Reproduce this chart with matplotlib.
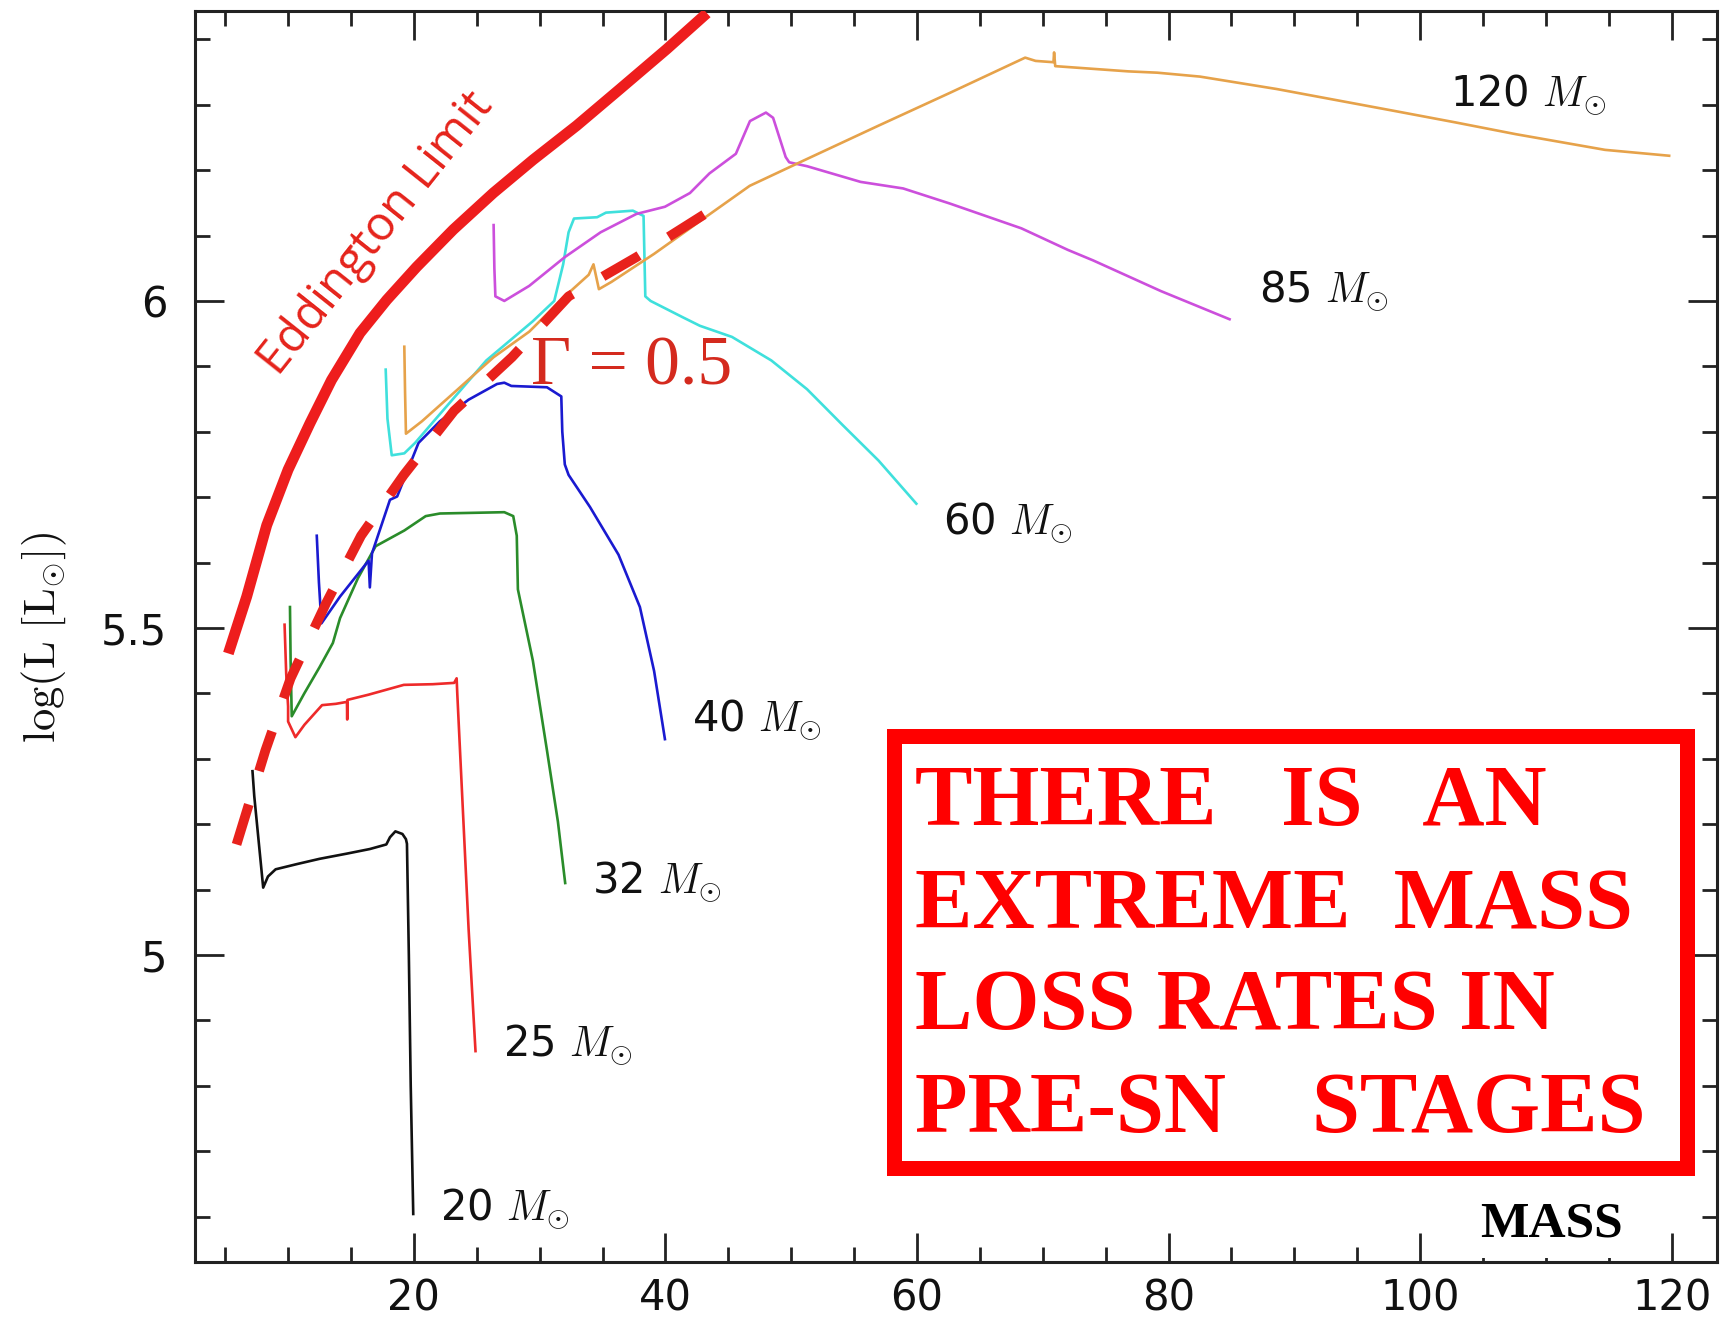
import matplotlib
matplotlib.use("Agg")
import matplotlib.pyplot as plt
from matplotlib.patches import Rectangle
from matplotlib.ticker import MultipleLocator

plt.rcParams['mathtext.fontset'] = 'cm'
plt.rcParams['font.family'] = 'DejaVu Sans'

# ---- data (mass in Msun, log L) ----
edd_x = [5.25, 6.71, 8.3, 10.0, 11.74, 13.45, 15.72, 17.84, 20.22, 23.13, 26.31,
         29.49, 32.94, 36.38, 40.1, 43.3]
edd_y = [5.461, 5.548, 5.657, 5.742, 5.813, 5.879, 5.951, 6.0015, 6.052, 6.109, 6.165,
         6.216, 6.268, 6.324, 6.385, 6.44]

gam_x = [5.9, 8.2, 10.2, 13.0, 15.8, 19.2, 23.2, 27.8, 32.3, 37.7, 44.3]
gam_y = [5.169, 5.313, 5.423, 5.537, 5.641, 5.734, 5.832, 5.914, 6.007, 6.067, 6.147]

m20_x = [7.17, 7.31, 8.02, 8.4, 9.01, 10.71, 12.5, 14.68, 16.5, 17.81, 18.1, 18.53,
         19.09, 19.37, 19.45, 19.6, 19.75, 19.95]
m20_y = [5.281, 5.243, 5.103, 5.12, 5.131, 5.139, 5.147, 5.155, 5.162, 5.169, 5.18, 5.189,
         5.185, 5.177, 5.17, 5.0, 4.8, 4.604]

m25_x = [9.72, 9.85, 10.0, 10.0, 10.58, 11.3, 12.7, 13.8, 14.68, 14.7, 14.72, 16.4,
         19.2, 21.5, 23.2, 23.4, 23.45, 23.8, 24.35, 24.9]
m25_y = [5.505, 5.43, 5.38, 5.357, 5.333, 5.352, 5.382, 5.384, 5.387, 5.36, 5.39, 5.398,
         5.413, 5.414, 5.416, 5.423, 5.40, 5.26, 5.04, 4.853]

m32_x = [10.15, 10.2, 10.29, 11.29, 12.5, 13.56, 14.13, 15.55, 16.96, 19.24, 20.94,
         22.07, 27.19, 27.9, 28.18, 28.27, 29.46, 30.58, 31.45, 32.03]
m32_y = [5.532, 5.45, 5.365, 5.40, 5.44, 5.477, 5.515, 5.576, 5.625, 5.649, 5.671,
         5.675, 5.677, 5.671, 5.641, 5.559, 5.45, 5.313, 5.204, 5.11]

m40_x = [12.28, 12.45, 12.65, 14.13, 16.4, 16.5, 16.67, 18.1, 18.67, 20.37, 22.07,
         24.35, 26.61, 27.19, 27.75, 30.58, 31.72, 31.8, 32.0, 32.3, 34.0, 36.27,
         37.97, 39.1, 39.96]
m40_y = [5.641, 5.57, 5.507, 5.548, 5.603, 5.562, 5.614, 5.696, 5.701, 5.783, 5.816,
         5.849, 5.873, 5.875, 5.87, 5.868, 5.854, 5.80, 5.75, 5.734, 5.685, 5.612,
         5.532, 5.434, 5.33]

m60_x = [17.76, 17.9, 18.24, 19.24, 20.1, 22.07, 25.76, 29.46, 31.16, 31.87, 32.3,
         32.73, 34.57, 35.27, 37.41, 38.26, 38.4, 38.82, 41.38, 42.74, 45.29, 48.42,
         51.26, 54.1, 56.94, 59.95]
m60_y = [5.895, 5.82, 5.764, 5.767, 5.783, 5.827, 5.909, 5.969, 6.0, 6.056, 6.105,
         6.126, 6.128, 6.135, 6.138, 6.13, 6.007, 6.0, 5.975, 5.962, 5.945, 5.909,
         5.865, 5.81, 5.756, 5.69]

m85_x = [26.34, 26.4, 26.48, 27.19, 29.17, 32.0, 34.85, 37.69, 39.96, 41.95, 43.5,
         45.6, 46.72, 47.99, 48.56, 49.56, 49.84, 51.26, 55.52, 58.9, 62.6, 65.0,
         68.3, 72.0, 74.0, 79.4, 84.85]
m85_y = [6.116, 6.05, 6.007, 6.0, 6.023, 6.067, 6.105, 6.133, 6.144, 6.165, 6.195,
         6.225, 6.275, 6.288, 6.28, 6.22, 6.212, 6.206, 6.182, 6.172, 6.149, 6.133,
         6.111, 6.078, 6.062, 6.015, 5.972]

m120_x = [19.24, 19.3, 19.37, 20.64, 23.5, 26.34, 29.17, 32.0, 33.9, 34.28, 34.71,
          35.7, 39.1, 41.95, 42.74, 46.7, 50.69, 56.94, 62.6, 68.6, 69.43, 70.85,
          70.9, 70.99, 76.8, 79.1, 82.5, 88.6, 98.1, 102.8, 107.6, 114.7, 119.8]
m120_y = [5.93, 5.86, 5.797, 5.816, 5.865, 5.914, 5.953, 6.007, 6.04, 6.056, 6.018,
          6.029, 6.072, 6.111, 6.122, 6.176, 6.212, 6.268, 6.318, 6.372, 6.367, 6.365,
          6.38, 6.359, 6.351, 6.349, 6.343, 6.324, 6.29, 6.273, 6.255, 6.231, 6.222]

track_names = ["20", "25", "32", "40", "60", "85", "120"]
track_colors = ["#111111", "#ee2a2a", "#2a8c2a", "#1a1ad0", "#3fe0dc", "#cc4fdc", "#e6a24a"]
label_x = [22.06, 27.05, 34.14, 42.1, 62.05, 87.2, 102.35]
label_y = [4.594, 4.845, 5.095, 5.343, 5.644, 5.998, 6.298]

tracks = [(m20_x, m20_y), (m25_x, m25_y), (m32_x, m32_y), (m40_x, m40_y),
          (m60_x, m60_y), (m85_x, m85_y), (m120_x, m120_y)]

fig = plt.figure(figsize=(17.35, 13.18), dpi=100)
ax = fig.add_axes([0.1124, 0.0425, 0.8772, 0.9492])

for (tx, ty), c in zip(tracks, track_colors):
    ax.plot(tx, ty, color=c, lw=1.9, zorder=3)

# eddington limit and gamma = 0.5
ax.plot(edd_x, edd_y, color="#ee1d1d", lw=7.8, solid_capstyle="butt",
        solid_joinstyle="round", zorder=4)
ax.plot(gam_x, gam_y, color="#e8221c", lw=7.0, dashes=(4.3, 3.6),
        dash_capstyle="butt", zorder=4)

ax.text(17.04, 6.1035, "Eddington Limit", family=["Open Sans", "DejaVu Sans"], fontsize=34,
        color="#e5231b", rotation=51.5, rotation_mode="anchor", ha="center", va="center")
ax.text(29.3, 5.873, "Γ = 0.5", family=["Liberation Serif", "DejaVu Serif"], fontsize=50,
        color="#d42a1e", ha="left", va="baseline", zorder=5)

for name, lx, ly in zip(track_names, label_x, label_y):
    ax.text(lx, ly, name + r" $M_{\odot}$", fontsize=30, color="#111111",
            ha="left", va="baseline")

ax.set_xlim(2.6, 123.6)
ax.set_ylim(4.5306, 6.4434)

ax.xaxis.set_major_locator(MultipleLocator(20))
ax.xaxis.set_minor_locator(MultipleLocator(5))
ax.yaxis.set_major_locator(MultipleLocator(0.5))
ax.yaxis.set_minor_locator(MultipleLocator(0.1))
ax.yaxis.set_major_formatter(plt.FuncFormatter(lambda v, p: "%g" % v))

ax.tick_params(which="both", direction="in", top=True, right=True, color="#222222",
               width=2.0, labelsize=30, labelcolor="#111111")
ax.tick_params(which="major", length=21)
ax.tick_params(which="minor", length=11)
ax.tick_params(axis="y", which="major", pad=20)
ax.tick_params(axis="x", which="major", pad=11)
for s in ax.spines.values():
    s.set_linewidth(2.2)
    s.set_color("#222222")

fig.text(44 / 1735, 1 - 637 / 1318, r"$\log(\mathrm{L}\ [\mathrm{L}_{\odot}])$",
         fontsize=32, color="#111111", rotation=90, ha="center", va="center")

# message box
ax.add_patch(Rectangle((0.4591, 0.0751), 0.9803 - 0.4591, 0.4208 - 0.0751,
                       transform=ax.transAxes, facecolor="white", edgecolor="#ff0000",
                       lw=10.8, joinstyle="miter", zorder=6))
box_lines = ["THERE   IS   AN", "EXTREME  MASS", "LOSS RATES IN", "PRE-SN    STAGES"]
box_base = [0.3494, 0.2671, 0.1864, 0.1040]
for line, yb in zip(box_lines, box_base):
    ax.text(0.4733, yb, line, transform=ax.transAxes, family="Liberation Serif",
            weight="bold", fontsize=62, color="#ff0000", ha="left", va="baseline", zorder=7)

ax.add_patch(Rectangle((0.8298, 0.003), 0.9514 - 0.8298, 0.0466, transform=ax.transAxes,
                       facecolor="white", edgecolor="none", zorder=6))
ax.text(0.8441, 0.0201, "MASS", transform=ax.transAxes, family="Liberation Serif",
        weight="bold", fontsize=37, color="black", ha="left", va="baseline", zorder=7)

fig.savefig("out.png", dpi=100, facecolor="white")
